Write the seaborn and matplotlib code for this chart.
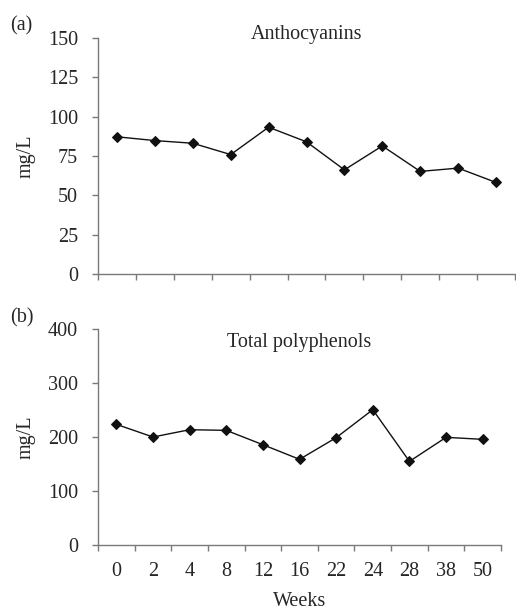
import numpy as np
import matplotlib
matplotlib.use('Agg')
import matplotlib.pyplot as plt
import seaborn as sns

weeks = ['0', '2', '4', '8', '12', '16', '22', '24', '28', '38', '50']
anthocyanins = [87.2, 84.8, 83.1, 75.9, 93.3, 84.0, 66.2, 81.4, 65.2, 67.3, 58.2]
polyphenols = [223.4, 200.0, 213.5, 212.3, 185.8, 158.8, 198.8, 250.5, 155.0, 199.4, 195.7]

sns.set_style('white')
plt.rcParams['font.family'] = ['Liberation Serif', 'DejaVu Serif']
plt.rcParams['font.size'] = 14.5

grey = '#7a7a7a'
fs = 14.5

fig = plt.figure(figsize=(5.16, 6.15), dpi=100)
ax1 = fig.add_axes([0.190, 0.5545, 0.808, 0.3837])
ax2 = fig.add_axes([0.190, 0.1133, 0.781, 0.3522])


def draw(ax, vals, ymax, ystep, title, title_y, xmax, labels):
	sns.pointplot(x=weeks, y=vals, color='#111111', marker='D', markersize=5.5,
		linewidth=1.0, ax=ax)
	ax.set_ylim(0, ymax)
	ax.set_yticks(np.arange(0, ymax + 1, ystep))
	ax.set_xlim(-0.5, xmax)
	ax.set_xticks(np.arange(-0.5, len(weeks) + 0.5, 1))
	ax.set_xticklabels([])
	if labels:
		ax.set_xticks(np.arange(len(weeks)), minor=True)
		ax.set_xticklabels(weeks, minor=True, fontsize=fs)
		ax.tick_params(axis='x', which='minor', length=0, pad=12)
	for s in ['top', 'right']:
		ax.spines[s].set_visible(False)
	for s in ['left', 'bottom']:
		ax.spines[s].set_color(grey)
		ax.spines[s].set_linewidth(1.0)
	ax.tick_params(axis='both', which='major', direction='out', length=4.3,
		width=1.0, color=grey, labelsize=fs, bottom=True, left=True)
	ax.tick_params(axis='y', pad=10)
	ax.set_ylabel('mg/L', fontsize=fs, labelpad=9)
	ax.set_xlabel('')
	ax.text(0.5, title_y, title, transform=ax.transAxes, ha='center', va='baseline',
		fontsize=fs)


draw(ax1, anthocyanins, 150, 25, 'Anthocyanins', 0.996, 10.36, False)
draw(ax2, polyphenols, 400, 100, 'Total polyphenols', 0.917, 10.5, True)
ax2.set_xlabel('Weeks', fontsize=fs, labelpad=8)

fig.text(0.019, 0.951, '(a)', ha='left', va='baseline', fontsize=fs)
fig.text(0.019, 0.475, '(b)', ha='left', va='baseline', fontsize=fs)

fig.savefig('out.png', dpi=100)
